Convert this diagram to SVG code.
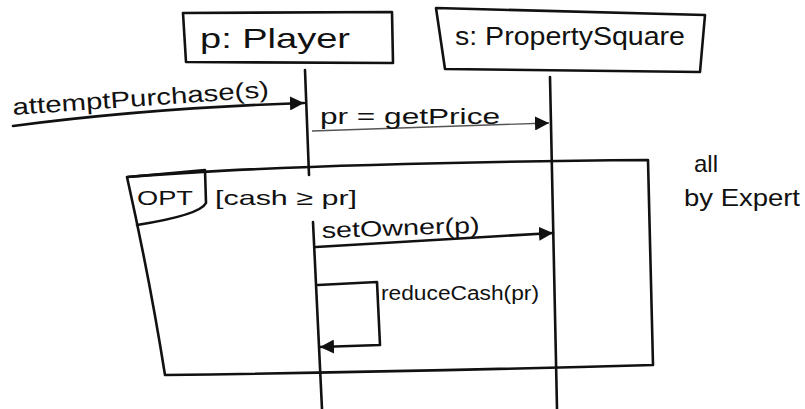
<svg xmlns="http://www.w3.org/2000/svg" width="805" height="409" viewBox="0 0 805 409">
<style>
.ln{fill:none;stroke:#111;stroke-width:2.6;stroke-linecap:round;stroke-linejoin:round}
.thin{fill:none;stroke:#555;stroke-width:1.4}
.t{font-family:"Liberation Sans",Arial,sans-serif;fill:#111}
</style>
<defs>
<marker id="ah" viewBox="0 0 10 10" refX="10" refY="5" markerWidth="14" markerHeight="14" markerUnits="userSpaceOnUse" orient="auto">
<path d="M0,0 L10,5 L0,10 Z" fill="#111"/>
</marker>
</defs>
<rect width="805" height="409" fill="#fff"/>
<g id="player">
<path class="ln" d="M183,13 L392,12 L393,63 L186,62 Z"/>
<text class="t" x="200" y="48" font-size="28" textLength="150" lengthAdjust="spacingAndGlyphs">p: Player</text>
<path class="ln" d="M305,70 L309,175"/>
<path class="ln" d="M313,222 L322,409"/>
</g>
<g id="propertySquare">
<path class="ln" d="M436,8 L705,15 L700,72 L445,69 Z"/>
<text class="t" x="455" y="45" font-size="25" textLength="230" lengthAdjust="spacingAndGlyphs">s: PropertySquare</text>
<path class="ln" d="M550,77 L557,409"/>
</g>
<g id="opt">
<path class="ln" d="M127,177 Q300,163 648,160 L653,365 Q400,372 165,375 Q150,280 127,177 Z"/>
<path class="ln" d="M128,177 L205,170 L206,203 Q200,215 137,225"/>
<text class="t" x="137" y="205" font-size="20" textLength="56" lengthAdjust="spacingAndGlyphs">OPT</text>
<text class="t" x="215" y="205" font-size="21" textLength="142" lengthAdjust="spacingAndGlyphs">[cash ≥ pr]</text>
</g>
<g id="note">
<text class="t" x="694" y="172" font-size="24">all</text>
<text class="t" x="684" y="206" font-size="24" textLength="116" lengthAdjust="spacingAndGlyphs">by Expert</text>
</g>
<g id="connectors">
<path class="ln" d="M13,126 Q150,108 304,103" marker-end="url(#ah)"/>
<text class="t" x="13" y="115" font-size="23" textLength="257" lengthAdjust="spacingAndGlyphs" transform="rotate(-4 13 115)">attemptPurchase(s)</text>
<path class="thin" d="M312,131 L549,123" marker-end="url(#ah)"/>
<text class="t" x="320" y="124" font-size="22" textLength="180" lengthAdjust="spacingAndGlyphs">pr = getPrice</text>
<path class="ln" d="M316,247 L553,233" marker-end="url(#ah)"/>
<text class="t" x="322" y="238" font-size="22" textLength="158" lengthAdjust="spacingAndGlyphs" transform="rotate(-2 322 238)">setOwner(p)</text>
<path class="ln" d="M318,285 L377,282 L380,345 L320,347" marker-end="url(#ah)"/>
<text class="t" x="381" y="300" font-size="20" textLength="158" lengthAdjust="spacingAndGlyphs">reduceCash(pr)</text>
</g>
</svg>
